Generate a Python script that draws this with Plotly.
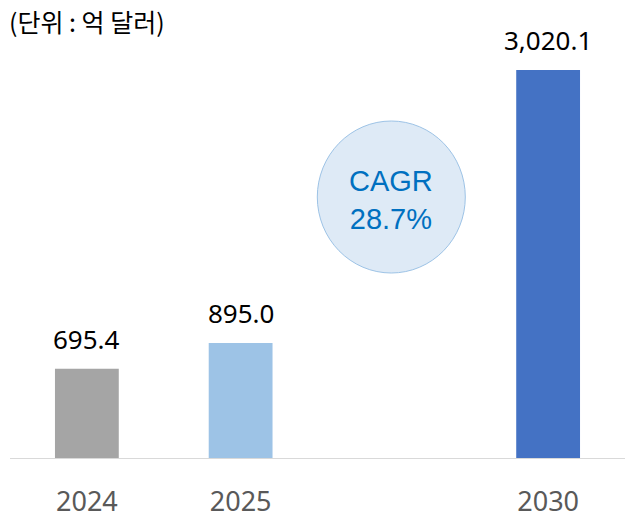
import plotly.graph_objects as go

years = ["2024", "2025", "2030"]
positions = [0, 1, 3]
values = [695.4, 895.0, 3020.1]
colors = ["#A5A5A5", "#9DC3E6", "#4472C4"]
unit_label = "(단위 : 억 달러)"
cagr_label = "CAGR<br>28.7%"

W, H = 634, 526
m_l, m_r, m_t, m_b = 10, 9, 40, 68
plot_h = H - m_t - m_b
ymax = max(values) * plot_h / 388.0

fig = go.Figure()
fig.add_trace(go.Bar(
    x=positions, y=values, width=0.415,
    marker=dict(color=colors, line=dict(width=0)),
    hoverinfo="skip",
))

for p, v in zip(positions, values):
    fig.add_annotation(
        x=p, y=v, xref="x", yref="y", text=f"{v:,.1f}",
        showarrow=False, yanchor="bottom", yshift=10,
        font=dict(family="Noto Sans", size=26, color="#000000"),
    )

# CAGR circle
fig.add_shape(
    type="circle", xref="x", yref="paper",
    xsizemode="pixel", ysizemode="pixel",
    xanchor=1.98, yanchor=(H - m_b - 197) / plot_h,
    x0=-74, x1=74, y0=-76, y1=76,
    fillcolor="#DEEAF6", line=dict(color="#9DC3E6", width=1),
    layer="above",
)
fig.add_annotation(
    x=1.98, y=(H - m_b - 200) / plot_h, xref="x", yref="paper",
    text=cagr_label, showarrow=False,
    font=dict(family="Liberation Sans", size=29, color="#0070C0"),
)

fig.add_annotation(
    x=0, y=1, xref="paper", yref="paper", xanchor="left", yanchor="top",
    xshift=-m_l + 7, yshift=m_t - 1,
    text=unit_label, showarrow=False,
    font=dict(family="Noto Sans CJK KR", size=25, color="#000000"),
)

fig.update_layout(
    width=W, height=H,
    margin=dict(l=m_l, r=m_r, t=m_t, b=m_b, autoexpand=False),
    paper_bgcolor="white", plot_bgcolor="white",
    showlegend=False,
    xaxis=dict(
        range=[-0.5, 3.5], tickvals=positions, ticktext=years,
        showgrid=False, zeroline=False, showline=True,
        linecolor="#D9D9D9", linewidth=1, ticks="",
        tickfont=dict(family="Noto Sans", size=27, color="#595959"),
        ticklabelstandoff=20, automargin=False,
    ),
    yaxis=dict(
        range=[0, ymax], visible=False, showgrid=False, zeroline=False,
        automargin=False,
    ),
)

fig.write_html("out.html")
